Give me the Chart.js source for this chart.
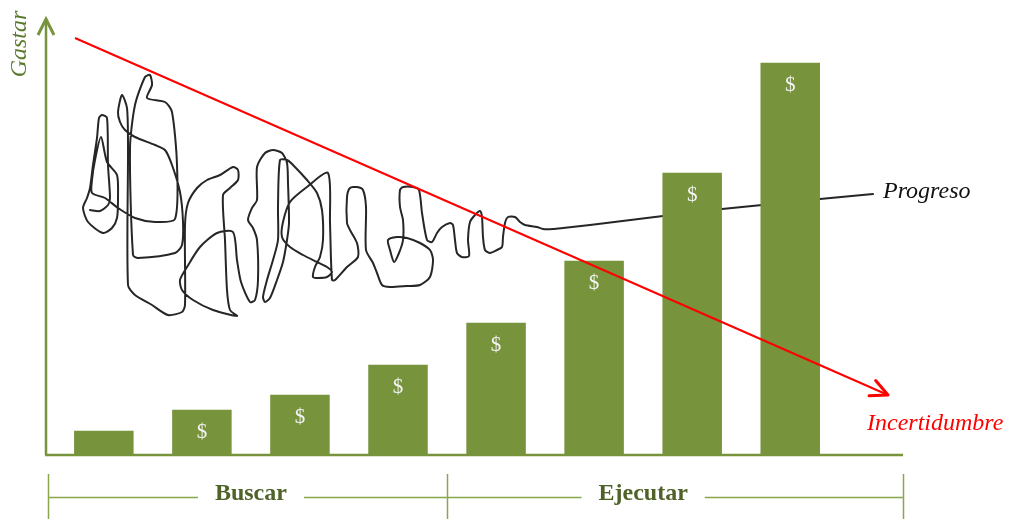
<!DOCTYPE html>
<html>
<head>
<meta charset="utf-8">
<script src="https://cdn.jsdelivr.net/npm/chart.js@4.4.1/dist/chart.umd.min.js"></script>
<style>
  html, body { margin: 0; padding: 0; background: #ffffff; overflow: hidden; }
  canvas { display: block; }
</style>
</head>
<body>
<canvas id="chart" width="1011" height="519"></canvas>
<script>
// Spending per stage (bars), one "$" tag per bar
const stageValues = [24, 45, 60, 90, 132, 194, 282, 392];
const stageLabels = ['', '$', '$', '$', '$', '$', '$', '$'];

// Phases under the axis, in stage units
const phaseNames = ['Buscar', 'Ejecutar'];
const phaseBounds = [0.43, 4.5, 9.15];
const phaseCenters = [2.5, 6.5];

// Uncertainty trend (time units, spending units)
const uncertaintyX = [30, 843];
const uncertaintyY = [417, 60];

// Progress path: a tangled scribble that straightens out over time
const progressX = [
  45, 55, 63, 65, 63, 62, 57, 54, 52, 48,
  45, 42, 38, 43, 58, 67, 72, 73, 72, 62,
  56, 50, 47, 47, 60, 73, 90, 110, 130, 132,
  127, 120, 102, 107, 105, 100, 90, 85, 88, 93,
  130, 137, 138, 135, 127, 120, 110, 90, 80, 75,
  73, 77, 82, 83, 83, 90, 107, 123, 137, 140,
  140, 143, 152, 162, 175, 188, 193, 193, 185, 178,
  180, 182, 185, 192, 168, 148, 137, 135, 142, 155,
  172, 188, 192, 196, 205, 210, 213, 212, 208, 203,
  207, 212, 212, 220, 228, 237, 242, 243, 244, 242,
  238, 232, 225, 220, 218, 222, 228, 233, 233, 235,
  242, 248, 262, 272, 277, 278, 275, 270, 268, 273,
  282, 287, 282, 272, 258, 245, 237, 238, 245, 262,
  283, 285, 287, 290, 302, 313, 312, 305, 302, 302,
  305, 312, 318, 321, 321, 328, 332, 337, 345, 362,
  375, 385, 388, 385, 375, 362, 352, 343, 345, 349,
  354, 358, 358, 355, 355, 358, 368, 374, 377, 382,
  387, 392, 397, 405, 408, 410, 412, 417, 424, 423,
  425, 430, 435, 437, 438, 440, 445, 452, 457, 458,
  460, 463, 470, 475, 480, 492, 498, 508, 518, 545,
  618, 677, 717, 775, 828
];
const progressY = [
  245, 244, 250, 257, 290, 337, 340, 337, 317, 290,
  267, 257, 247, 233, 222, 227, 237, 257, 280, 293,
  318, 295, 275, 262, 257, 247, 237, 233, 236, 290,
  343, 353, 357, 370, 380, 378, 350, 307, 200, 197,
  202, 210, 233, 263, 290, 305, 310, 318, 325, 333,
  343, 360, 347, 307, 170, 160, 150, 140, 143, 150,
  230, 252, 267, 275, 280, 288, 285, 275, 267, 260,
  215, 165, 145, 139, 145, 155, 165, 175, 188, 208,
  222, 223, 195, 173, 153, 155, 175, 215, 227, 235,
  247, 255, 288, 302, 305, 302, 292, 272, 232, 215,
  193, 175, 157, 153, 158, 175, 195, 215, 248, 295,
  295, 290, 275, 262, 245, 215, 198, 188, 178, 177,
  178, 183, 188, 193, 200, 208, 218, 233, 253, 268,
  282, 232, 175, 175, 188, 198, 212, 225, 232, 258,
  267, 268, 265, 248, 205, 192, 182, 170, 168, 169,
  170, 178, 195, 205, 212, 217, 218, 215, 205, 193,
  202, 215, 235, 248, 265, 268, 268, 265, 242, 215,
  213, 222, 228, 232, 230, 215, 202, 198, 199, 215,
  233, 240, 244, 238, 218, 205, 202, 205, 208, 218,
  232, 238, 238, 233, 230, 228, 226, 226, 227, 230,
  239, 246, 250, 256, 261
];

const GREEN = '#77933C';
const DARK_GREEN = '#4F6228';
const BRACKET_GREEN = '#8AA64C';
const SERIF = '"Liberation Serif", "DejaVu Serif", serif';

const barData = stageValues.map((v, i) => ({ x: i + 1, y: v }));
const uncertaintyData = uncertaintyX.map((x, i) => ({ x, y: uncertaintyY[i] }));
const progressData = progressX.map((x, i) => ({ x, y: progressY[i] }));

const decorations = {
  id: 'decorations',
  afterDatasetsDraw(chart) {
    const ctx = chart.ctx;
    const area = chart.chartArea;
    const xs = chart.scales.x;
    ctx.save();

    // "$" tags inside the bars
    const barMeta = chart.getDatasetMeta(1);
    ctx.fillStyle = '#F4F4F4';
    ctx.font = '21px ' + SERIF;
    ctx.textAlign = 'center';
    ctx.textBaseline = 'middle';
    barMeta.data.forEach((bar, i) => {
      if (stageLabels[i]) ctx.fillText(stageLabels[i], bar.x, bar.y + 22);
    });

    // Axes
    ctx.strokeStyle = GREEN;
    ctx.lineWidth = 2.5;
    ctx.lineCap = 'butt';
    ctx.beginPath();
    ctx.moveTo(area.left + 1, area.bottom);
    ctx.lineTo(area.left + 1, area.top - 1);
    ctx.moveTo(area.left, area.bottom);
    ctx.lineTo(area.right, area.bottom);
    ctx.stroke();
    // y-axis arrow head
    ctx.lineWidth = 3;
    ctx.lineJoin = 'miter';
    ctx.beginPath();
    ctx.moveTo(area.left - 7, area.top + 15);
    ctx.lineTo(area.left + 1, area.top - 1);
    ctx.lineTo(area.left + 9, area.top + 15);
    ctx.stroke();

    // Arrow head on the uncertainty line
    const um = chart.getDatasetMeta(0).data;
    const p1 = um[um.length - 2], p2 = um[um.length - 1];
    const ang = Math.atan2(p2.y - p1.y, p2.x - p1.x);
    const len = 19, spread = 0.45;
    ctx.strokeStyle = '#FF0000';
    ctx.lineWidth = 3;
    ctx.lineCap = 'round';
    ctx.lineJoin = 'round';
    ctx.beginPath();
    ctx.moveTo(p2.x - len * Math.cos(ang - spread), p2.y - len * Math.sin(ang - spread));
    ctx.lineTo(p2.x, p2.y);
    ctx.lineTo(p2.x - len * Math.cos(ang + spread), p2.y - len * Math.sin(ang + spread));
    ctx.stroke();

    // Series labels
    ctx.textAlign = 'left';
    ctx.textBaseline = 'alphabetic';
    ctx.font = 'italic 24px ' + SERIF;
    ctx.fillStyle = '#FF0000';
    ctx.fillText('Incertidumbre', p2.x - 21, p2.y + 35);
    const pm = chart.getDatasetMeta(2).data;
    const pe = pm[pm.length - 1];
    ctx.fillStyle = '#111111';
    ctx.fillText('Progreso', pe.x + 10, pe.y + 4);

    // y-axis title
    ctx.save();
    ctx.translate(26, 44);
    ctx.rotate(-Math.PI / 2);
    ctx.textAlign = 'center';
    ctx.fillStyle = '#5A7A2F';
    ctx.font = 'italic 24px ' + SERIF;
    ctx.fillText('Gastar', 0, 0);
    ctx.restore();

    // Phase bracket under the axis
    const lineY = 497.5, tickTop = 474, tickBottom = 519;
    ctx.strokeStyle = BRACKET_GREEN;
    ctx.lineWidth = 1.5;
    ctx.lineCap = 'butt';
    ctx.beginPath();
    phaseBounds.forEach(b => {
      const x = Math.round(xs.getPixelForValue(b)) + 0.5;
      ctx.moveTo(x, tickTop);
      ctx.lineTo(x, tickBottom);
    });
    ctx.font = 'bold 24px ' + SERIF;
    ctx.textAlign = 'center';
    ctx.fillStyle = DARK_GREEN;
    phaseNames.forEach((name, i) => {
      const left = xs.getPixelForValue(phaseBounds[i]);
      const right = xs.getPixelForValue(phaseBounds[i + 1]);
      const cx = xs.getPixelForValue(phaseCenters[i]);
      const half = ctx.measureText(name).width / 2 + 17;
      ctx.moveTo(left, lineY);
      ctx.lineTo(cx - half, lineY);
      ctx.moveTo(cx + half, lineY);
      ctx.lineTo(right, lineY);
      ctx.fillText(name, cx, 500);
    });
    ctx.stroke();

    ctx.restore();
  }
};

new Chart(document.getElementById('chart'), {
  type: 'bar',
  data: {
    datasets: [
      {
        type: 'line',
        label: 'Incertidumbre',
        data: uncertaintyData,
        xAxisID: 'xt',
        borderColor: '#FF0000',
        borderWidth: 2,
        pointRadius: 0,
        fill: false,
        order: 0
      },
      {
        type: 'bar',
        label: 'Gastar',
        data: barData,
        xAxisID: 'x',
        backgroundColor: GREEN,
        borderWidth: 0,
        grouped: false,
        barPercentage: 1,
        categoryPercentage: 1,
        maxBarThickness: 59,
        order: 1
      },
      {
        type: 'line',
        label: 'Progreso',
        data: progressData,
        xAxisID: 'xt',
        borderColor: '#262626',
        borderWidth: 2,
        pointRadius: 0,
        tension: 0.25,
        borderJoinStyle: 'round',
        borderCapStyle: 'round',
        fill: false,
        order: 2
      }
    ]
  },
  options: {
    responsive: false,
    animation: false,
    devicePixelRatio: 1,
    layout: { padding: { left: 45, right: 108, top: 20, bottom: 64 } },
    plugins: { legend: { display: false }, tooltip: { enabled: false } },
    scales: {
      x: { type: 'linear', min: 0.4, max: 9.15, offset: false, display: false },
      xt: { type: 'linear', axis: 'x', min: 0, max: 858, offset: false, display: false },
      y: { type: 'linear', min: 0, max: 435, display: false }
    }
  },
  plugins: [decorations]
});
</script>
</body>
</html>
